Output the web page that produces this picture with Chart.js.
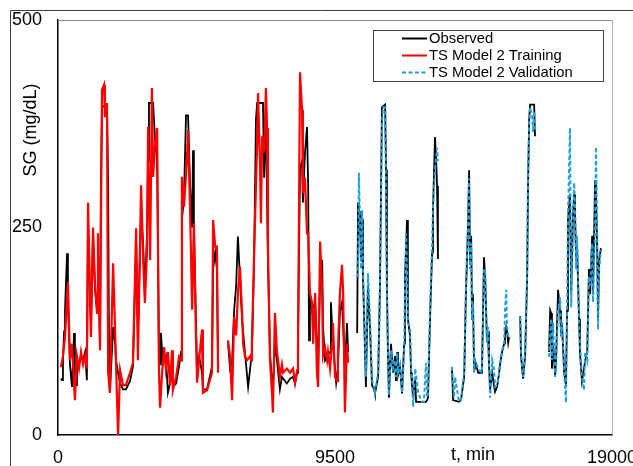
<!DOCTYPE html>
<html>
<head>
<meta charset="utf-8">
<script src="https://cdn.jsdelivr.net/npm/chart.js@4.4.1/dist/chart.umd.min.js"></script>
<style>
    html, body { margin: 0; padding: 0; background: #fff; overflow: hidden; }
    #wrap { position: relative; width: 633px; height: 466px; }
</style>
</head>
<body>
<div id="wrap"><canvas id="CanvasSG" width="633" height="466"></canvas></div>
<script>
// time in minutes, glucose in mg/dL (null = gap in the record)
const observedTime = [100, 140, 170, 210, 240, 310, 340, 410, 480, 550, 580, 620, 650, 720, 790, 860, 930, 990, 1030, 1130, 1200, 1270, 1340, 1370, 1440, 1470, 1510, 1680, 1720, 1750, 1780, 1890, 1960, 1990, 2060, 2130, 2230, 2330, 2470, 2570, 2680, 2740, 2850, 2920, 2980, 3050, 3090, 3120, 3260, 3330, 3400, 3460, 3500, 3530, 3600, 3700, 3770, 3840, 3910, 3940, 4050, 4150, 4220, 4250, 4320, 4390, 4460, 4530, 4600, 4630, 4660, 4730, 4770, 4840, 4940, 4970, 5110, 5280, 5320, 5390, 5450, 5490, 5620, 5830, 5900, 5970, 6040, 6110, 6170, 6240, 6310, 6410, 6520, 6590, 6650, 6720, 6790, 6830, 7030, 7070, 7130, 7200, 7270, 7340, 7370, 7440, 7510, 7610, 7680, 7850, 7960, 8060, 8130, 8200, 8230, 8300, 8370, 8400, 8470, 8540, 8580, 8610, 8640, 8710, 8820, 8920, 8990, 9060, 9090, 9160, 9230, 9330, 9360, 9430, 9540, 9600, 9670, 9740, 9780, 9840, 9910, 9950, 10080,
    10260, 10290, 10320, 10360, 10390, 10430, 10460, 10500, 10530, 10560, 10630, 10700, 10770, 10840, 10870, 10980, 11040, 11110, 11220, 11250, 11280, 11320, 11350, 11420, 11490, 11560, 11590, 11630, 11660, 11730, 11800, 11870, 11900, 11970, 12000, 12070, 12110, 12140, 12180, 12250, 12280, 12420, 12550, 12620, 12660, 12690, 12760, 12830, 12860, 12930, 12970, 13000, 13030, 13270,
    13510, 13550, 13750, 13820, 13930, 13990, 14060, 14100, 14130, 14170, 14200, 14230, 14270, 14300, 14410, 14540, 14610, 14650, 14710, 14750, 14780, 14820, 14890, 14950, 14990, 15060, 15130, 15160, 15230, 15300, 15330, 15370, 15400, 15440, 15470, 15680,
    15850, 15880, 15950, 16020, 16090, 16120, 16160, 16190, 16330, 16360, 16600,
    16840, 16880, 16910, 16940, 16980, 17050, 17080, 17150, 17220, 17250, 17290, 17360, 17420, 17460, 17490, 17560, 17600, 17660, 17700, 17730, 17770, 17800, 17870, 17900, 17970, 18040, 18080, 18150, 18210, 18250, 18320, 18350, 18420, 18450, 18490, 18520, 18560, 18620];
const observedValue = [68, 66, 90, 125, 150, 219, 160, 85, 58, 123, 75, 60, 90, 85, 95, 90, 100, 66, 250, 130, 240, 175, 150, 230, 110, 300, 395, 398, 300, 100, 51, 130, 110, 90, 75, 62, 55, 55, 65, 82, 230, 120, 270, 230, 170, 240, 330, 400, 400, 355, 330, 110, 85, 123, 85, 95, 51, 62, 82, 58, 62, 82, 100, 260, 285, 385, 385, 300, 250, 343, 255, 140, 80, 95, 75, 55, 55, 82, 200, 220, 200, 82, null, 112, 80, 88, 150, 180, 239, 190, 140, 100, 58, 80, 100, 200, 380, 400, 400, 310, 385, 210, 100, 62, 58, 110, 90, 55, 70, 62, 68, 70, 62, 75, 110, 320, 330, 280, 340, 371, 300, 114, 170, 150, 160, 80, 190, 211, 130, 90, 95, 100, 160, 110, 63, 80, 150, 160, 130, 80, 135, 100, null,
    123, 280, 240, 270, 210, 260, 190, 140, 100, 58, 180, 130, 60, 55, 50, 70, 175, 395, 398, 320, 180, 90, 45, 110, 75, 95, 65, 100, 72, 82, 50, 110, 190, 259, 140, 120, 75, 60, 45, 70, 40, 40, 40, 40, 42, 45, 140, 220, 270, 359, 330, 300, 212, null,
    82, 42, 40, 42, 70, 170, 250, 319, 210, 240, 140, 170, 80, 90, 75, 75, 214, 190, 115, 125, 85, 55, 75, 60, 52, 58, 75, 85, 100, 110, 120, 130, 125, 111, 118, null,
    143, 95, 68, 95, 190, 300, 380, 398, 398, 360, null,
    100, 150, 147, 80, 110, 72, 90, 175, 150, 125, 130, 75, 60, 150, 260, 290, 170, 260, 290, 270, 210, 230, 140, 100, 65, 80, 90, 100, 200, 170, 240, 170, 307, 290, 230, 140, 210, 225];

const trainingTime = [100, 170, 240, 340, 410, 480, 580, 650, 720, 790, 860, 930, 990, 1030, 1130, 1200, 1270, 1340, 1370, 1440, 1510, 1580, 1610, 1680, 1720, 1780, 1890, 1960, 2060, 2130, 2230, 2330, 2470, 2570, 2680, 2740, 2850, 2920, 2980, 3050, 3090, 3160, 3220, 3260, 3330, 3400, 3460, 3500, 3570, 3640, 3700, 3770, 3840, 3910, 3940, 4050, 4150, 4220, 4250, 4320, 4420, 4460, 4530, 4600, 4660, 4730, 4770, 4870, 4940, 4970, 5110, 5280, 5320, 5390, 5450, 5490, 5620, 5830, 5900, 5970, 6040, 6110, 6170, 6240, 6310, 6350, 6410, 6480, 6590, 6620, 6650, 6720, 6830, 6860, 6930, 6960, 7000, 7070, 7130, 7170, 7200, 7270, 7340, 7370, 7440, 7510, 7550, 7610, 7680, 7720, 7850, 7960, 8060, 8130, 8200, 8230, 8300, 8370, 8400, 8470, 8540, 8580, 8640, 8710, 8750, 8820, 8880, 8920, 8990, 9060, 9090, 9160, 9230, 9260, 9330, 9400, 9430, 9500, 9570, 9600, 9670, 9740, 9780, 9840, 9910, 9950];
const trainingValue = [82, 95, 118, 184, 90, 110, 42, 95, 80, 100, 85, 95, 80, 280, 118, 250, 180, 147, 243, 102, 416, 422, 383, 400, 75, 51, 207, 123, 0, 78, 60, 60, 75, 87, 249, 90, 301, 211, 159, 219, 371, 211, 418, 311, 352, 370, 82, 33, 75, 106, 80, 100, 60, 102, 54, 70, 94, 90, 311, 275, 331, 367, 271, 151, 255, 120, 63, 102, 127, 51, 54, 75, 259, 227, 227, 75, null, 114, 95, 42, 142, 120, 170, 203, 150, 110, 95, 90, 95, 90, 110, 211, 352, 412, 323, 255, 360, 340, 418, 370, 231, 90, 51, 27, 147, 100, 90, 70, 85, 75, 80, 75, 80, 63, 78, 100, 437, 392, 291, 310, 243, 243, 171, 160, 110, 171, 75, 58, 233, 171, 95, 105, 90, 100, 80, 110, 135, 70, 65, 100, 171, 205, 171, 27, 110, 87];

const validationTime = [10290, 10320, 10360, 10390, 10430, 10460, 10500, 10530, 10560, 10630, 10700, 10770, 10840, 10870, 10980, 11040, 11110, 11150, 11220, 11250, 11280, 11320, 11350, 11420, 11490, 11560, 11590, 11630, 11660, 11730, 11800, 11870, 11900, 11940, 11970, 12000, 12070, 12110, 12140, 12180, 12250, 12310, 12350, 12420, 12490, 12550, 12620, 12660, 12690, 12760, 12830, 12860, 12930, 13000, 13030, 13270,
    13510, 13580, 13620, 13690, 13750, 13820, 13930, 13990, 14060, 14100, 14130, 14170, 14200, 14230, 14270, 14300, 14410, 14540, 14610, 14650, 14710, 14750, 14780, 14820, 14890, 14950, 14990, 15060, 15130, 15160, 15230, 15300, 15330, 15370, 15400, 15440, 15470, 15680,
    15850, 15880, 15950, 16020, 16090, 16120, 16160, 16190, 16260, 16290, 16330, 16360, 16600,
    16840, 16880, 16910, 16940, 16980, 17050, 17080, 17150, 17220, 17250, 17290, 17360, 17420, 17460, 17490, 17560, 17600, 17660, 17700, 17730, 17770, 17800, 17870, 17900, 17970, 18040, 18080, 18150, 18210, 18250, 18320, 18350, 18420, 18450, 18490, 18520, 18560, 18620];
const validationValue = [190, 316, 250, 200, 271, 200, 150, 111, 70, 195, 140, 66, 58, 51, 75, 175, 376, 395, 395, 300, 175, 94, 48, 102, 80, 90, 70, 99, 75, 85, 51, 100, 175, 243, 200, 135, 130, 80, 70, 34, 80, 65, 51, 45, 40, 40, 87, 45, 50, 154, 230, 275, 320, 346, 330, null,
    82, 45, 70, 54, 40, 43, 75, 175, 255, 309, 200, 231, 139, 160, 75, 90, 80, 75, 198, 200, 111, 130, 90, 45, 90, 80, 58, 60, 75, 85, 102, 110, 150, 175, 130, 120, 118, null,
    142, 100, 70, 100, 195, 311, 376, 395, 385, 365, 390, 367, null,
    94, 120, 140, 90, 135, 70, 80, 150, 166, 120, 135, 80, 39, 150, 263, 370, 154, 250, 304, 280, 200, 240, 135, 110, 70, 54, 100, 90, 191, 180, 231, 160, 250, 347, 250, 127, 200, 223];

const xTicks = [0, 9500, 19000];
const yTicks = [0, 250, 500];
const seriesLabels = ["Observed", "TS Model 2 Training", "TS Model 2 Validation"];
const seriesColors = ["#000000", "#ff0000", "#20a0d8"];

const fontFamily = "'Liberation Sans', Arial, sans-serif";

function toPoints(times, values) {
    return times.map((t, i) => ({ x: t, y: values[i] }));
}

// frame, grey top/right plot border, axis titles and the boxed legend
const decorations = {
    id: 'decorations',
    afterDraw(chart) {
        const ctx = chart.ctx;
        const area = chart.chartArea;
        ctx.save();

        // outer chart frame
        ctx.strokeStyle = "#3a3a3a";
        ctx.lineWidth = 1;
        ctx.beginPath();
        ctx.moveTo(10.5, 466);
        ctx.lineTo(10.5, 10.5);
        ctx.lineTo(633, 10.5);
        ctx.stroke();

        // plot area top and right edges
        ctx.strokeStyle = "#8c8c8c";
        ctx.beginPath();
        ctx.moveTo(area.left, area.top + 0.5);
        ctx.lineTo(area.right, area.top + 0.5);
        ctx.stroke();
        ctx.strokeStyle = "#b0b0b0";
        ctx.beginPath();
        ctx.moveTo(area.right + 0.5, area.top);
        ctx.lineTo(area.right + 0.5, area.bottom);
        ctx.stroke();

        // axis titles
        ctx.fillStyle = "#000";
        ctx.font = "18px " + fontFamily;
        ctx.textAlign = "center";
        ctx.textBaseline = "middle";
        ctx.fillText("t, min", 473, 455);
        ctx.save();
        ctx.translate(31, 130);
        ctx.rotate(-Math.PI / 2);
        ctx.fillText("SG (mg/dL)", 0, 0);
        ctx.restore();

        // legend
        const lx = 373, ly = 30, lw = 230, lh = 51;
        ctx.fillStyle = "#fff";
        ctx.fillRect(lx, ly, lw, lh);
        ctx.strokeStyle = "#404040";
        ctx.strokeRect(lx + 0.5, ly + 0.5, lw, lh);
        ctx.font = "14.8px " + fontFamily;
        ctx.textAlign = "left";
        ctx.textBaseline = "middle";
        for (let i = 0; i < seriesLabels.length; i++) {
            const rowY = ly + 8.5 + i * 17;
            ctx.strokeStyle = seriesColors[i];
            ctx.lineWidth = 2;
            ctx.setLineDash(i === 2 ? [4, 2.5] : []);
            ctx.beginPath();
            ctx.moveTo(402, rowY);
            ctx.lineTo(427, rowY);
            ctx.stroke();
            ctx.setLineDash([]);
            ctx.fillStyle = "#000";
            ctx.fillText(seriesLabels[i], 429, rowY);
        }
        ctx.restore();
    }
};

new Chart(document.getElementById("CanvasSG"), {
    type: 'line',
    data: {
        datasets: [{
            label: seriesLabels[0],
            data: toPoints(observedTime, observedValue),
            borderColor: seriesColors[0],
            borderWidth: 1.8,
            order: 3
        }, {
            label: seriesLabels[1],
            data: toPoints(trainingTime, trainingValue),
            borderColor: seriesColors[1],
            borderWidth: 2.2,
            order: 2
        }, {
            label: seriesLabels[2],
            data: toPoints(validationTime, validationValue),
            borderColor: seriesColors[2],
            borderWidth: 2,
            borderDash: [4, 2.5],
            order: 1
        }]
    },
    options: {
        responsive: false,
        animation: false,
        devicePixelRatio: 1,
        spanGaps: false,
        layout: { padding: { left: 0, top: 20, right: 21, bottom: 0 } },
        elements: {
            point: { radius: 0 },
            line: { tension: 0 }
        },
        plugins: {
            legend: { display: false },
            tooltip: { enabled: false }
        },
        scales: {
            x: {
                type: 'linear',
                min: 0,
                max: 19000,
                grid: { display: false, drawTicks: false },
                border: { display: true, color: "#000", width: 1.5 },
                afterBuildTicks: scale => { scale.ticks = xTicks.map(v => ({ value: v })); },
                ticks: {
                    padding: 12,
                    maxRotation: 0,
                    autoSkip: false,
                    color: "#000",
                    font: { family: fontFamily, size: 18 },
                    callback: value => String(value)
                },
                afterFit: scale => {
                    scale.height = 31;
                    scale.paddingLeft = 0;
                    scale.paddingRight = 0;
                }
            },
            y: {
                min: 0,
                max: 500,
                grid: { display: false, drawTicks: false },
                border: { display: true, color: "#000", width: 1.5 },
                afterBuildTicks: scale => { scale.ticks = yTicks.map(v => ({ value: v })); },
                ticks: {
                    padding: 16,
                    color: "#000",
                    font: { family: fontFamily, size: 18 },
                    callback: value => String(value)
                },
                afterFit: scale => {
                    scale.width = 58;
                    scale.paddingTop = 0;
                    scale.paddingBottom = 0;
                }
            }
        }
    },
    plugins: [decorations]
});
</script>
</body>
</html>
